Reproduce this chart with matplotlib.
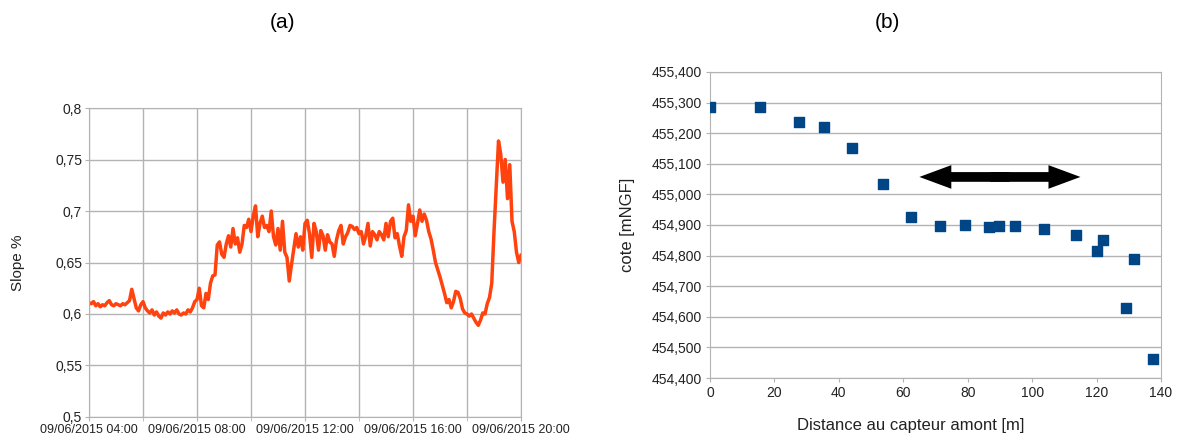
import datetime as dt
import matplotlib
matplotlib.use("Agg")
import matplotlib.pyplot as plt
import matplotlib.dates as mdates
from matplotlib.ticker import FuncFormatter, MultipleLocator

plt.rcParams['font.family'] = ['Liberation Sans', 'DejaVu Sans']

# (a) slope time series, one value every 5 minutes from 04:00 to 20:00
start = dt.datetime(2015, 6, 9, 4, 0)
step_min = 5
slope = [
    # 04:00 - 04:55
    0.611, 0.610, 0.612, 0.608, 0.610, 0.607, 0.609, 0.608, 0.611, 0.613, 0.609, 0.608,
    # 05:00 - 05:55
    0.610, 0.609, 0.608, 0.610, 0.609, 0.611, 0.613, 0.624, 0.615, 0.606, 0.603, 0.609,
    # 06:00 - 06:55
    0.612, 0.606, 0.603, 0.601, 0.604, 0.599, 0.602, 0.598, 0.596, 0.601, 0.599, 0.602,
    # 07:00 - 07:55
    0.600, 0.603, 0.601, 0.604, 0.600, 0.599, 0.601, 0.600, 0.604, 0.602, 0.606, 0.612,
    # 08:00 - 08:55
    0.614, 0.625, 0.608, 0.606, 0.620, 0.614, 0.630, 0.637, 0.638, 0.667, 0.670, 0.658,
    # 09:00 - 09:55
    0.655, 0.668, 0.676, 0.665, 0.683, 0.668, 0.674, 0.660, 0.668, 0.686, 0.684, 0.692,
    # 10:00 - 10:55
    0.680, 0.695, 0.705, 0.675, 0.688, 0.695, 0.684, 0.686, 0.680, 0.700, 0.675, 0.667,
    # 11:00 - 11:55
    0.683, 0.662, 0.690, 0.660, 0.655, 0.632, 0.648, 0.663, 0.678, 0.665, 0.675, 0.662,
    # 12:00 - 12:55
    0.688, 0.691, 0.678, 0.655, 0.688, 0.680, 0.662, 0.681, 0.676, 0.662, 0.677, 0.670,
    # 13:00 - 13:55
    0.668, 0.656, 0.672, 0.681, 0.686, 0.668, 0.675, 0.679, 0.686, 0.685, 0.682, 0.684,
    # 14:00 - 14:55
    0.678, 0.680, 0.668, 0.676, 0.688, 0.666, 0.680, 0.677, 0.672, 0.680, 0.677, 0.672,
    # 15:00 - 15:55
    0.688, 0.675, 0.690, 0.693, 0.674, 0.678, 0.666, 0.656, 0.675, 0.681, 0.706, 0.690,
    # 16:00 - 16:55
    0.695, 0.676, 0.688, 0.701, 0.690, 0.697, 0.691, 0.680, 0.673, 0.662, 0.650, 0.643,
    # 17:00 - 17:55
    0.636, 0.628, 0.620, 0.611, 0.614, 0.606, 0.612, 0.622, 0.621, 0.615, 0.605, 0.601,
    # 18:00 - 18:55
    0.600, 0.598, 0.600, 0.596, 0.592, 0.589, 0.594, 0.601, 0.600, 0.610, 0.616, 0.630,
    # 19:00 - 19:55
    0.680, 0.725, 0.768, 0.755, 0.728, 0.750, 0.712, 0.745, 0.690, 0.680, 0.660, 0.650,
    # 20:00
    0.657,
]
times = [start + dt.timedelta(minutes=step_min * i) for i in range(len(slope))]

# (b) bed elevation along the reach
distance = [0, 15.5, 27.6, 35.4, 44.1, 53.8, 62.3, 71.4, 79.2, 86.7, 89.7, 94.8,
            103.6, 113.6, 120.1, 122.0, 129.3, 131.7, 137.5]
cote = [455.287, 455.287, 455.238, 455.221, 455.153, 455.034, 454.927, 454.898,
        454.900, 454.892, 454.897, 454.898, 454.887, 454.867, 454.816, 454.851,
        454.630, 454.790, 454.463]

# double arrow marking the flat reach
arrow_x = (65, 115)
arrow_y = 455.057

grid_col = '#b3b3b3'
txt_col = '#222222'

fig = plt.figure(figsize=(11.79, 4.40), dpi=100)

# ---------- (a) ----------
ax1 = fig.add_axes([0.0755, 0.0523, 0.3664, 0.7022])
ax1.plot(times, slope, color='#ff420e', lw=2.5)
ax1.set_xlim(dt.datetime(2015, 6, 9, 4), dt.datetime(2015, 6, 9, 20))
ax1.set_ylim(0.5, 0.8)
ax1.yaxis.set_major_locator(MultipleLocator(0.05))
ax1.yaxis.set_major_formatter(FuncFormatter(lambda v, p: ('%g' % round(v, 2)).replace('.', ',')))
ax1.xaxis.set_major_locator(mdates.HourLocator(byhour=[4, 8, 12, 16, 20]))
ax1.xaxis.set_minor_locator(mdates.HourLocator(byhour=[6, 10, 14, 18]))
ax1.xaxis.set_major_formatter(mdates.DateFormatter('%d/%m/%Y %H:%M'))
ax1.grid(True, which='both', color=grid_col, lw=1)
ax1.set_axisbelow(True)
ax1.tick_params(axis='x', which='both', length=3, color=grid_col, labelsize=9, labelcolor=txt_col, pad=2)
ax1.tick_params(axis='y', length=3, color=grid_col, labelsize=10, labelcolor=txt_col, pad=2)
for s in ax1.spines.values():
    s.set_color(grid_col)
ax1.set_ylabel('Slope %', fontsize=11, color=txt_col, labelpad=22)
fig.text(0.24, 0.95, '(a)', ha='center', va='center', fontsize=15)

# ---------- (b) ----------
ax2 = fig.add_axes([0.6022, 0.1409, 0.3825, 0.6955])
ax2.scatter(distance, cote, marker='s', s=56, color='#004586', zorder=3)
ax2.set_xlim(0, 140)
ax2.set_ylim(454.4, 455.4)
ax2.xaxis.set_major_locator(MultipleLocator(20))
ax2.yaxis.set_major_locator(MultipleLocator(0.1))
ax2.yaxis.set_major_formatter(FuncFormatter(lambda v, p: ('%.3f' % v).replace('.', ',')))
ax2.grid(True, axis='y', color=grid_col, lw=1)
ax2.set_axisbelow(True)
ax2.tick_params(length=3, color=grid_col, labelsize=10, labelcolor=txt_col, pad=3)
for s in ax2.spines.values():
    s.set_color(grid_col)
ax2.set_ylabel('cote [mNGF]', fontsize=12, color=txt_col, labelpad=12)
fig.text(0.7727, 0.034, 'Distance au capteur amont [m]', ha='center', va='center',
         fontsize=12, color=txt_col)
# two single-headed arrows from just past the middle make one double arrow
mid = sum(arrow_x) / 2
for end, tail in [(arrow_x[0], mid + 3), (arrow_x[1], mid - 3)]:
    ax2.annotate('', xy=(end, arrow_y), xytext=(tail, arrow_y),
                 arrowprops=dict(arrowstyle='simple,head_length=23,head_width=17,tail_width=7',
                                 lw=0, color='black', shrinkA=0, shrinkB=0,
                                 mutation_scale=1))
fig.text(0.753, 0.95, '(b)', ha='center', va='center', fontsize=15)

fig.savefig('out.png', dpi=100)
